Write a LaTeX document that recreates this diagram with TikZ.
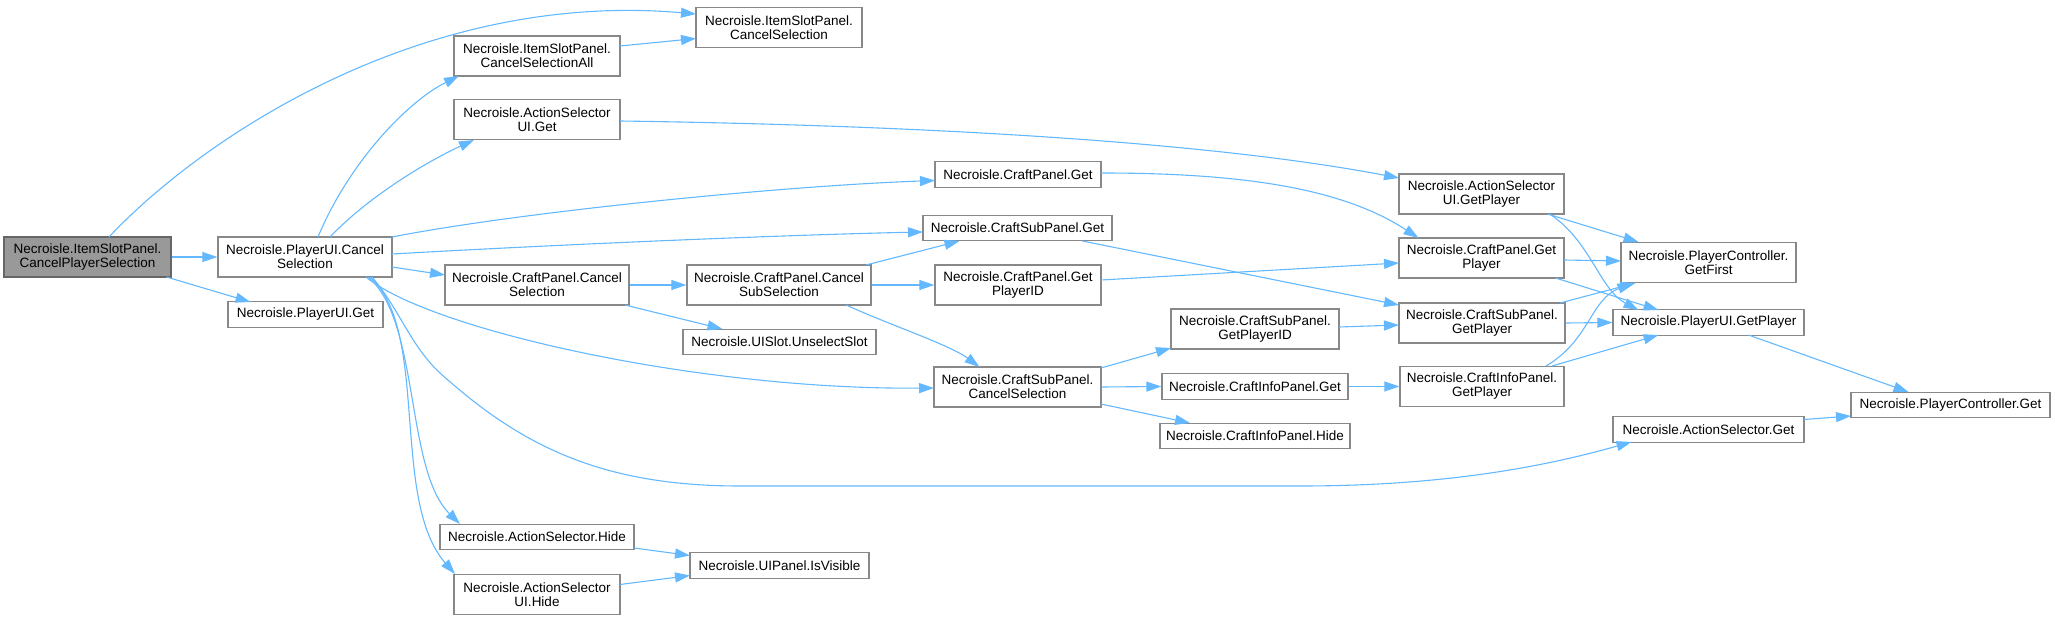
\documentclass[tikz,border=0pt]{standalone}
\usepackage{fontspec}
\setmainfont{Liberation Sans}
\usetikzlibrary{arrows.meta,calc}
\definecolor{edgec}{HTML}{63B8FF}
\definecolor{boxb}{HTML}{888888}
\definecolor{rootf}{HTML}{999999}
\definecolor{rootb}{HTML}{666666}
\begin{document}
\begin{tikzpicture}[x=1pt,y=-1pt,
  box/.style={draw=boxb, fill=white, line width=1.3pt, inner sep=0pt, align=center,
    font=\fontsize{13.5}{14}\selectfont, minimum height=40pt},
  sbox/.style={box, minimum height=25.5pt},
  root/.style={box, fill=rootf, draw=rootb},
  arr/.style={draw=edgec, line width=1.1pt, -{Triangle[length=15pt,width=10pt]}}]
\useasboundingbox (0,0) rectangle (2055,620);
% nodes
\node[root, minimum width=167pt] (A) at (87.5,257) {Necroisle.ItemSlotPanel.\\CancelPlayerSelection};
\node[box, minimum width=174pt] (B) at (305,257) {Necroisle.PlayerUI.Cancel\\Selection};
\node[sbox, minimum width=155pt] (C) at (305.5,314.5) {Necroisle.PlayerUI.Get};
\node[box, minimum width=166pt] (D) at (537,56) {Necroisle.ItemSlotPanel.\\CancelSelectionAll};
\node[box, minimum width=166pt] (E) at (537,119.5) {Necroisle.ActionSelector\\UI.Get};
\node[box, minimum width=184pt] (F) at (537,285) {Necroisle.CraftPanel.Cancel\\Selection};
\node[sbox, minimum width=194pt] (G) at (537,537) {Necroisle.ActionSelector.Hide};
\node[box, minimum width=166pt] (H) at (537,594.5) {Necroisle.ActionSelector\\UI.Hide};
\node[box, minimum width=166pt] (I) at (779,27.5) {Necroisle.ItemSlotPanel.\\CancelSelection};
\node[sbox, minimum width=166pt] (J) at (1018,174.5) {Necroisle.CraftPanel.Get};
\node[sbox, minimum width=189pt] (K) at (1017.5,228) {Necroisle.CraftSubPanel.Get};
\node[box, minimum width=184pt] (L) at (779,285) {Necroisle.CraftPanel.Cancel\\SubSelection};
\node[box, minimum width=166pt] (M) at (1018,285) {Necroisle.CraftPanel.Get\\PlayerID};
\node[sbox, minimum width=193pt] (N) at (779.5,342) {Necroisle.UISlot.UnselectSlot};
\node[box, minimum width=167pt] (O) at (1017.5,387) {Necroisle.CraftSubPanel.\\CancelSelection};
\node[sbox, minimum width=179pt] (P) at (779.5,565.5) {Necroisle.UIPanel.IsVisible};
\node[box, minimum width=168pt] (Q) at (1255,329) {Necroisle.CraftSubPanel.\\GetPlayerID};
\node[sbox, minimum width=186pt] (R) at (1255,386.5) {Necroisle.CraftInfoPanel.Get};
\node[sbox, minimum width=190pt] (S) at (1255,436) {Necroisle.CraftInfoPanel.Hide};
\node[box, minimum width=165pt] (T) at (1481.5,194) {Necroisle.ActionSelector\\UI.GetPlayer};
\node[box, minimum width=165pt] (U) at (1481.5,258) {Necroisle.CraftPanel.Get\\Player};
\node[box, minimum width=166pt] (V) at (1482,323) {Necroisle.CraftSubPanel.\\GetPlayer};
\node[box, minimum width=164pt] (W) at (1482,386.5) {Necroisle.CraftInfoPanel.\\GetPlayer};
\node[box, minimum width=175pt] (X) at (1708.5,262.5) {Necroisle.PlayerController.\\GetFirst};
\node[sbox, minimum width=191pt] (Y) at (1708.5,322.5) {Necroisle.PlayerUI.GetPlayer};
\node[sbox, minimum width=191pt] (Z) at (1708.5,429.5) {Necroisle.ActionSelector.Get};
\node[sbox, minimum width=199pt] (AA) at (1950.5,405) {Necroisle.PlayerController.Get};
% edges
\draw[arr] ($(A)+(21.5,-20)$) .. controls (200,140) and (420,-10) .. ($(I)+(-83,-13.5)$);
\draw[arr] (A.east) -- (B.west);
\draw[arr] ($(A)+(79,20)$) -- ($(C)+(-55,-12.5)$);
\draw[arr] ($(D)+(83,-10)$) -- ($(I)+(-83,11)$);
\draw[arr] ($(B)+(13,-20)$) .. controls (350,160) and (410,100) .. ($(D)+(-78,20)$);
\draw[arr] ($(B)+(25,-20)$) .. controls (370,195) and (430,160) .. ($(E)+(-63,20.5)$);
\draw[arr] ($(B)+(87,-20)$) .. controls (520,212) and (780,186) .. ($(J)+(-83,6)$);
\draw[arr] ($(B)+(87,-3)$) .. controls (550,245) and (780,235) .. ($(K)+(-94.5,4)$);
\draw[arr] ($(B)+(87,10)$) -- ($(F)+(-92,-10)$);
\draw[arr] (F.east) -- (L.west);
\draw[arr] ($(F)+(88,20)$) -- ($(N)+(-57,-13)$);
\draw[arr] ($(L)+(87,-20)$) -- ($(K)+(-58,13)$);
\draw[arr] (L.east) -- (M.west);
\draw[arr] ($(L)+(67,20)$) .. controls (890,325) and (950,345) .. ($(O)+(-38,-20)$);
\draw[arr] ($(J)+(83,-1.5)$) .. controls (1250,173) and (1345,190) .. ($(U)+(-63,-20)$);
\draw[arr] ($(M)+(83,-5)$) -- ($(U)+(-82.5,5)$);
\draw[arr] ($(K)+(65,13)$) -- ($(V)+(-83,-18)$);
\draw[arr] ($(E)+(83,1.5)$) .. controls (900,125) and (1200,140) .. ($(T)+(-82.5,-16)$);
\draw[arr] ($(O)+(83.5,-19)$) -- ($(Q)+(-84,19)$);
\draw[arr] (O.east) -- (R.west);
\draw[arr] ($(O)+(83.5,17)$) -- ($(S)+(-65,-13)$);
\draw[arr] ($(Q)+(84,-2)$) -- ($(V)+(-83,2)$);
\draw[arr] (R.east) -- (W.west);
\draw[arr] ($(B)+(61,20)$) .. controls (430,330) and (700,390) .. ($(O)+(-83.5,1)$);
\draw[arr] ($(B)+(67,20)$) .. controls (400,310) and (410,345) .. (440,373)
   .. controls (520,445) and (600,486) .. (740,486) -- (1300,486)
   .. controls (1450,486) and (1550,465) .. ($(Z)+(-77,12.5)$);
\draw[arr] ($(B)+(63,20)$) .. controls (420,320) and (405,470) .. ($(G)+(-77,-13)$);
\draw[arr] ($(B)+(65,20)$) .. controls (430,330) and (390,500) .. ($(H)+(-82,-20.5)$);
\draw[arr] ($(G)+(97,11)$) -- ($(P)+(-89.5,-10)$);
\draw[arr] ($(H)+(83,-10)$) -- ($(P)+(-89.5,10)$);
\draw[arr] ($(T)+(66,20)$) -- ($(X)+(-70,-20.5)$);
\draw[arr] ($(T)+(68,20)$) .. controls (1590,240) and (1600,290) .. ($(Y)+(-70,-12.5)$);
\draw[arr] ($(U)+(82.5,2)$) -- ($(X)+(-87.5,-1.5)$);
\draw[arr] ($(U)+(74,20)$) -- ($(Y)+(-50,-12.5)$);
\draw[arr] ($(V)+(78,-20)$) -- ($(X)+(-73,20.5)$);
\draw[arr] (V.east) -- (Y.west);
\draw[arr] ($(W)+(64,-20.5)$) .. controls (1590,340) and (1590,300) .. ($(X)+(-76,20.5)$);
\draw[arr] ($(W)+(70,-20.5)$) -- ($(Y)+(-50,12.5)$);
\draw[arr] ($(Y)+(40,12.5)$) -- ($(AA)+(-42,-13)$);
\draw[arr] ($(Z)+(95.5,-10)$) -- ($(AA)+(-99.5,11)$);
\end{tikzpicture}
\end{document}
